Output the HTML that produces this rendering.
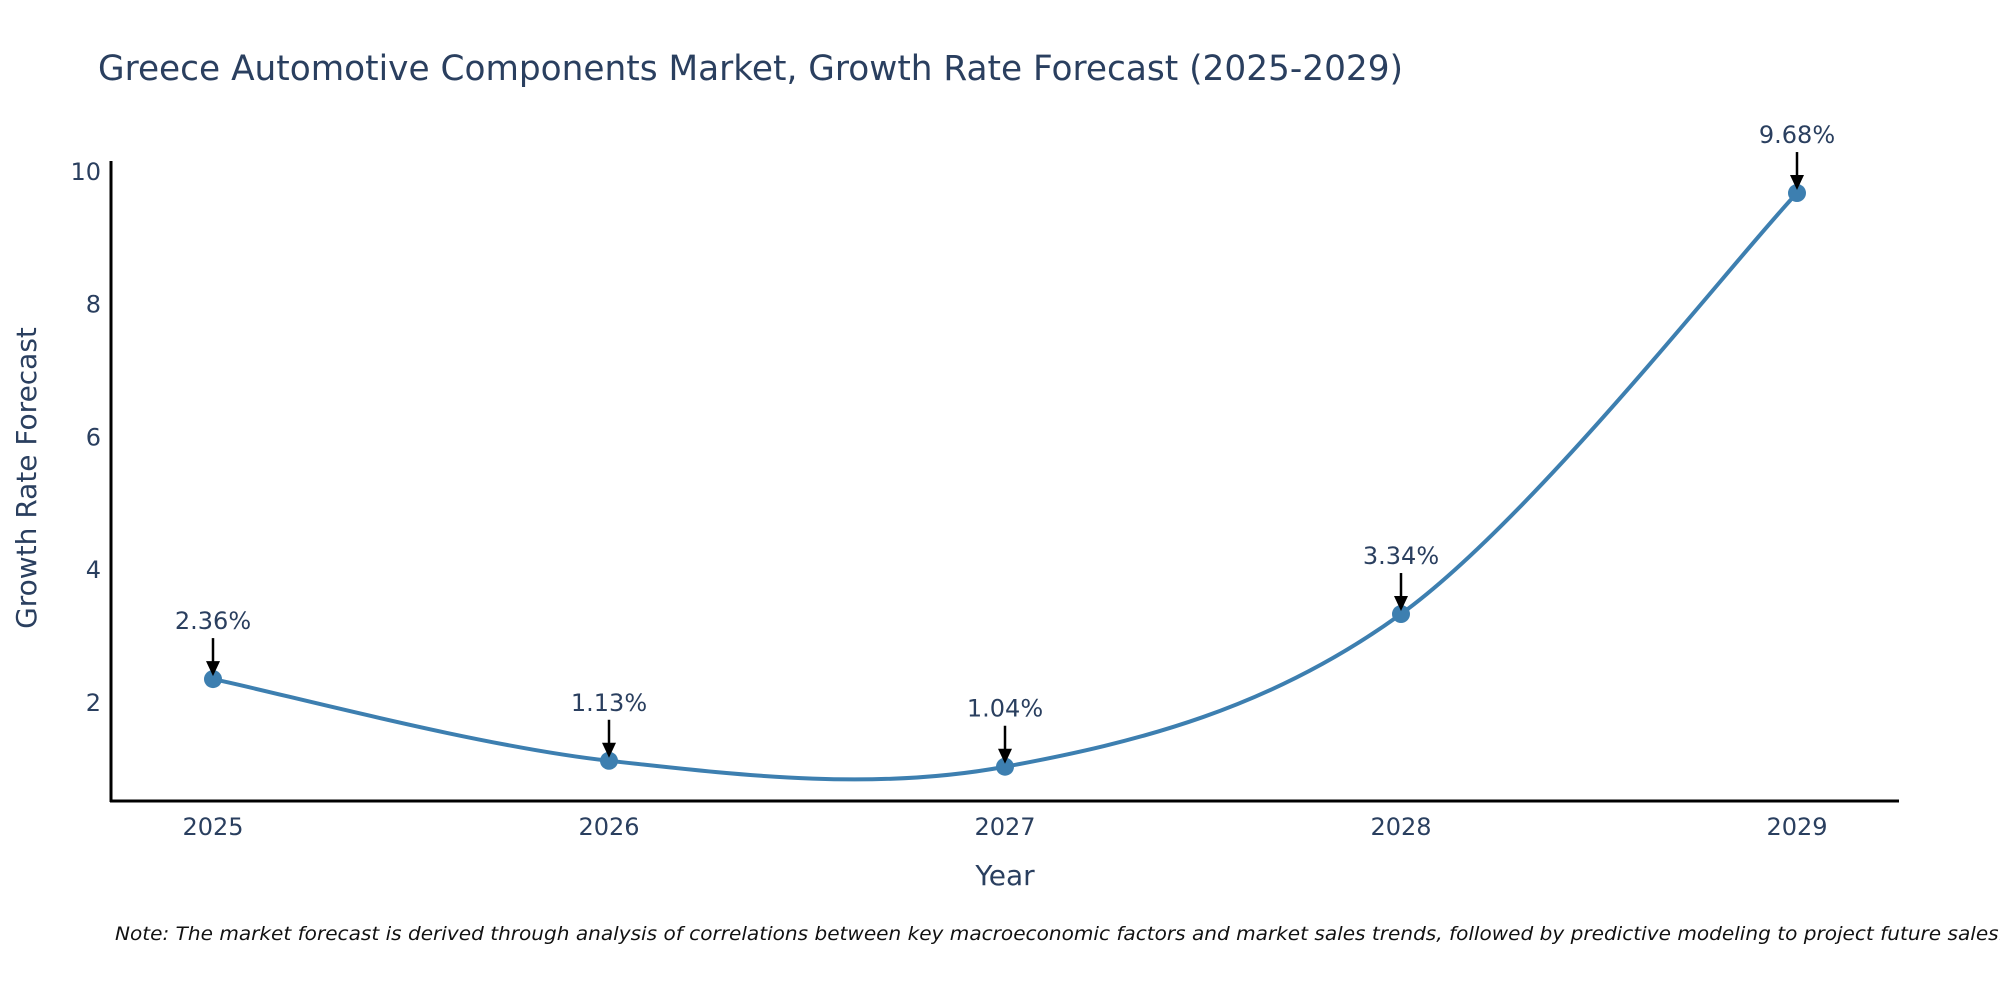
<!DOCTYPE html>
<html><head><meta charset="utf-8"><style>
html,body{margin:0;padding:0;background:#fff;}
svg{display:block;font-family:"DejaVu Sans","Liberation Sans",sans-serif;}
</style></head><body>
<svg id="chart" width="2000" height="1000" viewBox="0 0 2000 1000" xmlns="http://www.w3.org/2000/svg">
<rect width="2000" height="1000" fill="#fff"/>
<text x="98" y="80" font-size="35" fill="#2a3f5f" textLength="1305" lengthAdjust="spacingAndGlyphs">Greece Automotive Components Market, Growth Rate Forecast (2025-2029)</text>
<g id="yticks"></g>
<g id="xticks"></g>
<line x1="111" y1="161" x2="111" y2="802" stroke="#000" stroke-width="3"/>
<line x1="110" y1="801" x2="1899" y2="801" stroke="#000" stroke-width="3"/>
<text x="1005" y="885" font-size="28" fill="#2a3f5f" text-anchor="middle">Year</text>
<text transform="translate(36,478) rotate(-90)" font-size="28" fill="#2a3f5f" text-anchor="middle">Growth Rate Forecast</text>
<path id="line" fill="none" stroke="#3d7fb0" stroke-width="4"/>
<g id="points"></g>
<g id="annots"></g>
<text x="115" y="940" font-size="19" font-style="italic" fill="#111" textLength="1890" lengthAdjust="spacingAndGlyphs">Note: The market forecast is derived through analysis of correlations between key macroeconomic factors and market sales trends, followed by predictive modeling to project future sales.</text>
</svg>
<script>
const years = ["2025","2026","2027","2028","2029"];
const growth = [2.36, 1.13, 1.04, 3.34, 9.68];
const labels = ["2.36%","1.13%","1.04%","3.34%","9.68%"];
const yTicks = [2,4,6,8,10];

const NS="http://www.w3.org/2000/svg";
function xs(i){return 213 + i*(1797-213)/(years.length-1);}
function ys(v){return 703 - (v-2)*66.4;}
function mk(tag,attrs,parent){const e=document.createElementNS(NS,tag);for(const k in attrs)e.setAttribute(k,attrs[k]);parent.appendChild(e);return e;}

const yt=document.getElementById('yticks');
yTicks.forEach(t=>{
  const e=mk('text',{x:101,y:ys(t)+8,'font-size':24,fill:'#2a3f5f','text-anchor':'end'},yt);
  
  
  e.textContent=t;
});
const xt=document.getElementById('xticks');
years.forEach((y,i)=>{
  const e=mk('text',{x:xs(i),y:835,'font-size':24,fill:'#2a3f5f','text-anchor':'middle'},xt);
  
  
  e.textContent=y;
});

const P=growth.map((v,i)=>[xs(i),ys(v)]);
let d='M'+P[0][0]+','+P[0][1];
const s=0.5;
for(let i=0;i<P.length-1;i++){
  const p0=P[Math.max(i-1,0)],p1=P[i],p2=P[i+1],p3=P[Math.min(i+2,P.length-1)];
  const c1=[p1[0]+(p2[0]-p0[0])*s/3,p1[1]+(p2[1]-p0[1])*s/3];
  const c2=[p2[0]-(p3[0]-p1[0])*s/3,p2[1]-(p3[1]-p1[1])*s/3];
  d+=' C'+c1[0]+','+c1[1]+' '+c2[0]+','+c2[1]+' '+p2[0]+','+p2[1];
}
document.getElementById('line').setAttribute('d',d);

const pts=document.getElementById('points');
const an=document.getElementById('annots');
growth.forEach((v,i)=>{
  const cx=xs(i),cy=ys(v);
  const c=mk('circle',{cx:cx,cy:cy,r:9,fill:'#3d7fb0'},pts);
  
  
  const l=mk('line',{x1:cx,y1:cy-41,x2:cx,y2:cy-14,stroke:'#000','stroke-width':2.5},an);
  
  
  const h=mk('polygon',{points:(cx-7)+','+(cy-18)+' '+(cx+7)+','+(cy-18)+' '+cx+','+(cy-3),fill:'#000'},an);
  
  
  const t=mk('text',{x:cx,y:cy-50,'font-size':24,fill:'#2a3f5f','text-anchor':'middle'},an);
  
  
  t.textContent=labels[i];
});
</script>
</body></html>
